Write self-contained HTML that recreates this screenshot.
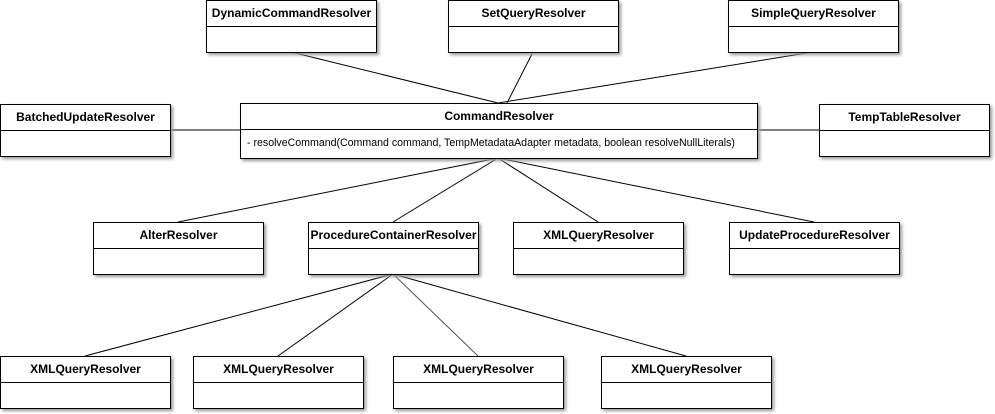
<!DOCTYPE html>
<html><head><style>
body{margin:0;width:995px;height:414px;background:#fff;position:relative;overflow:hidden;font-family:"Liberation Sans",sans-serif}
.b{position:absolute;border:1px solid #000;background:#fff;box-sizing:border-box;box-shadow:2px 2px 3px #999}
.h{height:25px;border-bottom:1px solid #000;font-weight:bold;font-size:12px;text-align:center;line-height:24px;white-space:nowrap}
.m{font-size:10.6px;padding-left:6px;line-height:26px;white-space:nowrap}
svg{position:absolute;left:0;top:0}
</style></head><body>
<svg width="995" height="414"><g stroke="#000" stroke-width="1">
<line x1="291" y1="52" x2="498" y2="103"/>
<line x1="533" y1="52" x2="507" y2="103"/>
<line x1="813" y1="52" x2="498" y2="103"/>
<line x1="170" y1="130" x2="240" y2="130"/>
<line x1="757" y1="130" x2="819" y2="130"/>
<line x1="498" y1="158" x2="178" y2="222"/>
<line x1="498" y1="158" x2="393" y2="222"/>
<line x1="498" y1="158" x2="598" y2="222"/>
<line x1="498" y1="158" x2="814" y2="222"/>
<line x1="393" y1="274" x2="85" y2="356"/>
<line x1="393" y1="274" x2="278" y2="356"/>
<line x1="393" y1="274" x2="478" y2="356" stroke="#555"/>
<line x1="393" y1="274" x2="686" y2="356"/>
</g></svg>
<div class="b" style="left:206px;top:0;width:171px;height:53px"><div class="h">DynamicCommandResolver</div></div>
<div class="b" style="left:448px;top:0;width:171px;height:53px"><div class="h">SetQueryResolver</div></div>
<div class="b" style="left:728px;top:0;width:171px;height:53px"><div class="h">SimpleQueryResolver</div></div>
<div class="b" style="left:0;top:104px;width:171px;height:53px"><div class="h">BatchedUpdateResolver</div></div>
<div class="b" style="left:240px;top:103px;width:518px;height:56px"><div class="h">CommandResolver</div><div class="m">- resolveCommand(Command command, TempMetadataAdapter metadata, boolean resolveNullLiterals)</div></div>
<div class="b" style="left:819px;top:104px;width:171px;height:53px"><div class="h">TempTableResolver</div></div>
<div class="b" style="left:93px;top:222px;width:171px;height:53px"><div class="h">AlterResolver</div></div>
<div class="b" style="left:308px;top:222px;width:171px;height:53px"><div class="h">ProcedureContainerResolver</div></div>
<div class="b" style="left:513px;top:222px;width:171px;height:53px"><div class="h">XMLQueryResolver</div></div>
<div class="b" style="left:729px;top:222px;width:171px;height:53px"><div class="h">UpdateProcedureResolver</div></div>
<div class="b" style="left:0;top:356px;width:171px;height:53px"><div class="h">XMLQueryResolver</div></div>
<div class="b" style="left:193px;top:356px;width:171px;height:53px"><div class="h">XMLQueryResolver</div></div>
<div class="b" style="left:393px;top:356px;width:171px;height:53px"><div class="h">XMLQueryResolver</div></div>
<div class="b" style="left:601px;top:356px;width:171px;height:53px"><div class="h">XMLQueryResolver</div></div>
</body></html>
